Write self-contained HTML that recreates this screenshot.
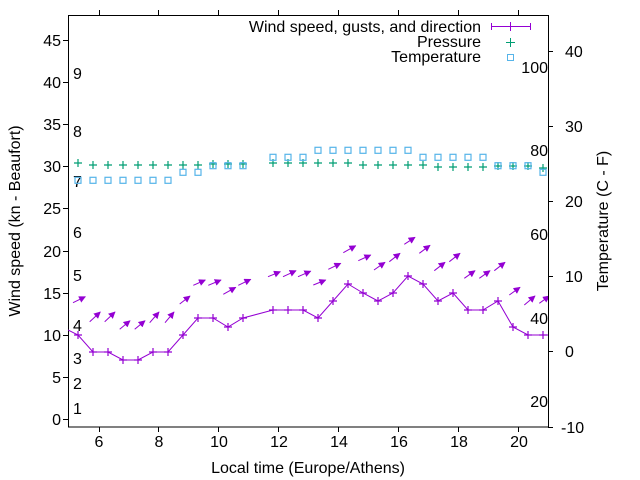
<!DOCTYPE html>
<html><head><meta charset="utf-8"><style>
html,body{margin:0;padding:0;background:#fff}
svg{display:block}
text{font-family:"Liberation Sans",sans-serif;font-size:16px;fill:#000}
</style></head><body>
<svg width="640" height="480" viewBox="0 0 640 480" xmlns="http://www.w3.org/2000/svg">
<defs>
<marker id="ah" viewBox="0 0 10 10" refX="9" refY="5" markerWidth="7" markerHeight="7" markerUnits="userSpaceOnUse" orient="auto"><path d="M0,0 L10,5 L0,10 z" fill="#9400d3"/></marker>
<clipPath id="cp"><rect x="68" y="15" width="480" height="412"/></clipPath>
</defs>
<rect x="68.5" y="15.5" width="480" height="411.5" fill="none" stroke="#000" stroke-width="1"/>
<g stroke="#000" stroke-width="1">
<path d="M63,419.5h5M63,377.5h5M63,335.5h5M63,293.5h5M63,251.5h5M63,208.5h5M63,166.5h5M63,124.5h5M63,82.5h5M63,40.5h5"/>
<path d="M99.5,427v5M158.5,427v5M218.5,427v5M278.5,427v5M338.5,427v5M398.5,427v5M458.5,427v5M518.5,427v5"/>
<path d="M99.5,15v-5M158.5,15v-5M218.5,15v-5M278.5,15v-5M338.5,15v-5M398.5,15v-5M458.5,15v-5M518.5,15v-5"/>
<path d="M548,427.5h5M548,351.5h5M548,276.5h5M548,201.5h5M548,126.5h5M548,51.5h5"/>
</g>
<g text-anchor="end">
<text x="61" y="425">0</text><text x="61" y="383">5</text><text x="61" y="341">10</text><text x="61" y="299">15</text><text x="61" y="257">20</text><text x="61" y="214">25</text><text x="61" y="172">30</text><text x="61" y="130">35</text><text x="61" y="88">40</text><text x="61" y="46">45</text>
</g>
<g text-anchor="middle">
<text x="99" y="447">6</text><text x="159" y="447">8</text><text x="219" y="447">10</text><text x="279" y="447">12</text><text x="339" y="447">14</text><text x="399" y="447">16</text><text x="459" y="447">18</text><text x="519" y="447">20</text>
<text x="308" y="473">Local time (Europe/Athens)</text>
</g>
<g>
<text x="561" y="433">-10</text><text x="565" y="357">0</text><text x="565" y="282">10</text><text x="565" y="207">20</text><text x="565" y="132">30</text><text x="565" y="57">40</text>
</g>
<text transform="translate(20,221) rotate(-90)" text-anchor="middle">Wind speed (kn - Beaufort)</text>
<text transform="translate(608,221) rotate(-90)" text-anchor="middle">Temperature (C - F)</text>
<g>
<text x="73" y="414">1</text><text x="73" y="389">2</text><text x="73" y="364">3</text><text x="73" y="331">4</text><text x="73" y="281">5</text><text x="73" y="238">6</text><text x="73" y="187">7</text><text x="73" y="137">8</text><text x="73" y="79">9</text>
</g>
<g text-anchor="end">
<text x="548" y="407">20</text><text x="548" y="324">40</text><text x="548" y="240">60</text><text x="548" y="156">80</text><text x="548" y="73">100</text>
</g>
<g text-anchor="end">
<text x="481" y="32">Wind speed, gusts, and direction</text>
<text x="481" y="47">Pressure</text>
<text x="481" y="62">Temperature</text>
</g>
<g stroke="#9400d3" stroke-width="1" fill="none">
<path d="M491,26.5h40M491.5,23v7M530.5,23v7M510.5,22v9"/>
</g>
<path d="M506,42.5h9M510.5,38v9" stroke="#009e73" stroke-width="1"/>
<rect x="507.5" y="54.5" width="6" height="6" fill="none" stroke="#56b4e9" stroke-width="1"/>
<g clip-path="url(#cp)">
<polyline fill="none" stroke="#9400d3" stroke-width="1" points="68,330 78,335 93,352 108,352 123,360 138,360 153,352 168,352 183,335 198,318 213,318 228,327 243,318 273,310 288,310 303,310 318,318 333,301 348,284 363,293 378,301 393,293 408,276 423,284 438,301 453,293 468,310 483,310 498,301 513,327 528,335 543,335 550,335"/>
<g stroke="#9400d3" stroke-width="1.2">
<path d="M74,335h8M78,331v8M89,352h8M93,348v8M104,352h8M108,348v8M119,360h8M123,356v8M134,360h8M138,356v8M149,352h8M153,348v8M164,352h8M168,348v8M179,335h8M183,331v8M194,318h8M198,314v8M209,318h8M213,314v8M224,327h8M228,323v8M239,318h8M243,314v8M269,310h8M273,306v8M284,310h8M288,306v8M299,310h8M303,306v8M314,318h8M318,314v8M329,301h8M333,297v8M344,284h8M348,280v8M359,293h8M363,289v8M374,301h8M378,297v8M389,293h8M393,289v8M404,276h8M408,272v8M419,284h8M423,280v8M434,301h8M438,297v8M449,293h8M453,289v8M464,310h8M468,306v8M479,310h8M483,306v8M494,301h8M498,297v8M509,327h8M513,323v8M524,335h8M528,331v8M539,335h8M543,331v8"/>
</g>
<g stroke="#9400d3" stroke-width="1" marker-end="url(#ah)">
<line x1="73" y1="302.7" x2="85.3" y2="296.7"/>
<line x1="89.7" y1="321.7" x2="100.3" y2="312"/>
<line x1="104.7" y1="321.7" x2="115" y2="312"/>
<line x1="119.7" y1="329.3" x2="130" y2="320.7"/>
<line x1="134.7" y1="329.3" x2="145" y2="320.7"/>
<line x1="149.7" y1="322.7" x2="159" y2="312"/>
<line x1="165" y1="322.7" x2="174" y2="312"/>
<line x1="179.7" y1="304" x2="190" y2="296"/>
<line x1="193.3" y1="285.3" x2="205.3" y2="280"/>
<line x1="208.3" y1="285.3" x2="221" y2="280"/>
<line x1="223.3" y1="294.3" x2="235.7" y2="287.3"/>
<line x1="238.3" y1="285.3" x2="250.7" y2="279.3"/>
<line x1="268" y1="276.7" x2="280.3" y2="271.7"/>
<line x1="283" y1="276.7" x2="296" y2="270.7"/>
<line x1="298" y1="276.7" x2="310.7" y2="271.2"/>
<line x1="313.3" y1="285" x2="325.7" y2="280"/>
<line x1="328.3" y1="269.3" x2="340.7" y2="263.3"/>
<line x1="343.3" y1="252.7" x2="355.7" y2="245.7"/>
<line x1="358.3" y1="260.7" x2="370.7" y2="255"/>
<line x1="374" y1="270" x2="385" y2="262.3"/>
<line x1="389.3" y1="261.7" x2="400" y2="253.3"/>
<line x1="404.3" y1="244.3" x2="415" y2="237.3"/>
<line x1="419.3" y1="253.3" x2="430" y2="245.3"/>
<line x1="434.3" y1="270.7" x2="445" y2="262.3"/>
<line x1="449.3" y1="261.7" x2="460" y2="253.3"/>
<line x1="464.3" y1="278.3" x2="475" y2="270.7"/>
<line x1="479.3" y1="278.3" x2="490" y2="270.7"/>
<line x1="494.3" y1="270.7" x2="505" y2="262.3"/>
<line x1="509.3" y1="295" x2="520" y2="287.3"/>
<line x1="524.3" y1="305" x2="535" y2="296"/>
<line x1="539.3" y1="303.3" x2="549.3" y2="296"/>
</g>
</g>
<g stroke="#009e73" stroke-width="1.2">
<path d="M74,163h8M78,159v8M89,165h8M93,161v8M104,165h8M108,161v8M119,165h8M123,161v8M134,165h8M138,161v8M149,165h8M153,161v8M164,165h8M168,161v8M179,165h8M183,161v8M194,165h8M198,161v8M209,164h8M213,160v8M224,164h8M228,160v8M239,164h8M243,160v8M269,163h8M273,159v8M284,163h8M288,159v8M299,163h8M303,159v8M314,163h8M318,159v8M329,163h8M333,159v8M344,163h8M348,159v8M359,165h8M363,161v8M374,165h8M378,161v8M389,165h8M393,161v8M404,165h8M408,161v8M419,165h8M423,161v8M434,167h8M438,163v8M449,167h8M453,163v8M464,167h8M468,163v8M479,167h8M483,163v8M494,166h8M498,162v8M509,166h8M513,162v8M524,166h8M528,162v8M539,168h8M543,164v8"/>
</g>
<g fill="none" stroke="#56b4e9" stroke-width="1.2">
<rect x="75" y="177.3" width="6" height="6"/><rect x="90" y="177.3" width="6" height="6"/><rect x="105" y="177.3" width="6" height="6"/><rect x="120" y="177.3" width="6" height="6"/><rect x="135" y="177.3" width="6" height="6"/><rect x="150" y="177.3" width="6" height="6"/><rect x="165" y="177.3" width="6" height="6"/>
<rect x="180" y="169.3" width="6" height="6"/><rect x="195" y="169.3" width="6" height="6"/>
<rect x="210" y="162.7" width="6" height="6"/><rect x="225" y="162.7" width="6" height="6"/><rect x="240" y="162.7" width="6" height="6"/>
<rect x="270" y="154.3" width="6" height="6"/><rect x="285" y="154.3" width="6" height="6"/><rect x="300" y="154.3" width="6" height="6"/>
<rect x="315" y="147.3" width="6" height="6"/><rect x="330" y="147.3" width="6" height="6"/><rect x="345" y="147.3" width="6" height="6"/><rect x="360" y="147.3" width="6" height="6"/><rect x="375" y="147.3" width="6" height="6"/><rect x="390" y="147.3" width="6" height="6"/><rect x="405" y="147.3" width="6" height="6"/>
<rect x="420" y="154.3" width="6" height="6"/><rect x="435" y="154.3" width="6" height="6"/><rect x="450" y="154.3" width="6" height="6"/><rect x="465" y="154.3" width="6" height="6"/><rect x="480" y="154.3" width="6" height="6"/>
<rect x="495" y="162.7" width="6" height="6"/><rect x="510" y="162.7" width="6" height="6"/><rect x="525" y="162.7" width="6" height="6"/>
<rect x="540" y="169.3" width="6" height="6"/>
</g>
</svg>
</body></html>
